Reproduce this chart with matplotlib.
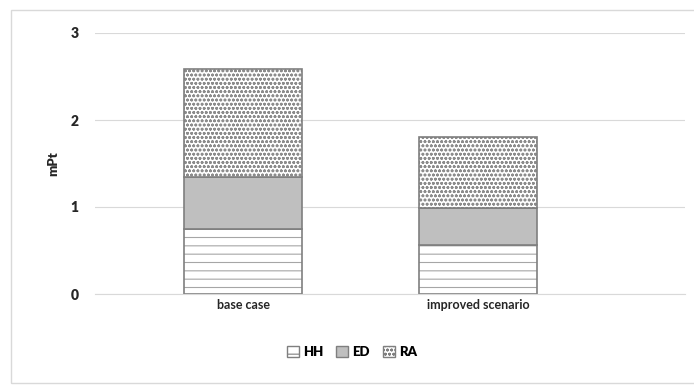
import matplotlib
matplotlib.use('Agg')
import matplotlib.pyplot as plt
from matplotlib.patches import Rectangle
import numpy as np

categories = ['base case', 'improved scenario']
hh = [0.75, 0.56]
ed = [0.60, 0.43]
ra = [1.24, 0.81]
series_names = ['HH', 'ED', 'RA']

plt.rcParams['font.family'] = ['Lato', 'DejaVu Sans']
plt.rcParams['hatch.linewidth'] = 0.8

fig = plt.figure(figsize=(6.94, 3.85), dpi=100)
# light frame around the whole chart
fig.patches.append(Rectangle((11 / 694, 2 / 385), 1.2, 373 / 385, transform=fig.transFigure,
                             fill=False, edgecolor='#d9d9d9', linewidth=1.0))
ax = fig.add_axes([95 / 694, 91 / 385, 590 / 694, 261 / 385])

x = np.arange(len(categories))
w = 0.5
edge = '#7f7f7f'
bottom = np.zeros(len(categories))
# hatched fills drawn with a light hatch colour, outlines drawn on top
b1 = ax.bar(x, hh, w, bottom=bottom, color='white', edgecolor='#a6a6a6', hatch='--', linewidth=0, label=series_names[0])
ax.bar(x, hh, w, bottom=bottom, fill=False, edgecolor=edge, linewidth=1.2)
bottom += hh
b2 = ax.bar(x, ed, w, bottom=bottom, color='#bfbfbf', edgecolor=edge, linewidth=1.2, label=series_names[1])
bottom += ed
b3 = ax.bar(x, ra, w, bottom=bottom, color='white', edgecolor='#8c8c8c', hatch='oooo', linewidth=0, label=series_names[2])
ax.bar(x, ra, w, bottom=bottom, fill=False, edgecolor=edge, linewidth=1.2)

ax.set_xlim(-0.63, 1.88)
ax.set_ylim(0, 3)
ax.set_yticks([0, 1, 2, 3])
ax.yaxis.grid(True, color='#d9d9d9', linewidth=0.8)
ax.set_axisbelow(True)
for s in ax.spines.values():
    s.set_visible(False)
ax.spines['bottom'].set_visible(True)
ax.spines['bottom'].set_color('#d9d9d9')
ax.tick_params(length=0, labelsize=9, colors='#262626')
ax.tick_params(axis='y', pad=12, labelsize=10)
ax.set_xticks(x)
ax.set_xticklabels(categories, fontweight='bold')
plt.setp(ax.get_yticklabels(), fontweight='heavy')
ax.set_ylabel('mPt', fontsize=9.5, fontweight='heavy', color='#262626', labelpad=8)

leg = fig.legend(handles=[b1, b2, b3], labels=series_names, loc='center', bbox_to_anchor=(352 / 694, 1 - 352 / 385),
                 ncol=3, frameon=False, handlelength=0.9, handleheight=0.9,
                 handletextpad=0.3, columnspacing=1.0, prop={'weight': 'heavy', 'size': 9.5})
for h in leg.legend_handles:
    h.set_edgecolor(edge)
    h.set_linewidth(1.0)

fig.savefig('out.png', dpi=100)
